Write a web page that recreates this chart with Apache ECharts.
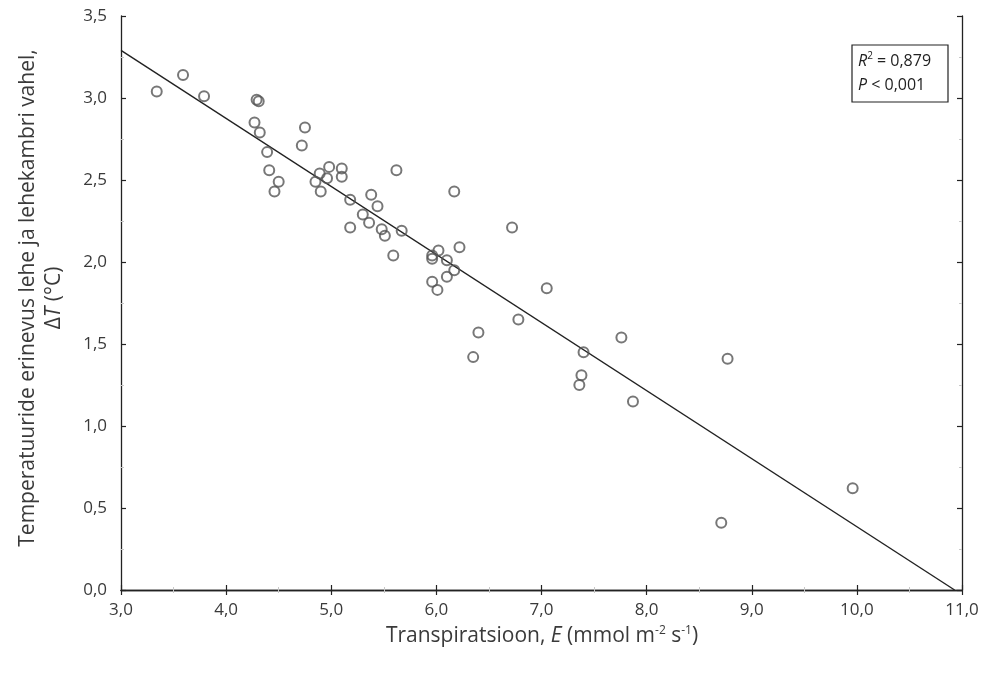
<!DOCTYPE html>
<html>
<head>
<meta charset="utf-8">
<script src="https://cdn.jsdelivr.net/npm/echarts@6/dist/echarts.min.js"></script>
<style>
html, body { margin: 0; padding: 0; background: #fff; }
#chart { width: 993px; height: 679px; }
</style>
</head>
<body>
<div id="chart"></div>
<script>
// transpiration E (mmol m-2 s-1)
var transpX = [3.34, 3.59, 3.79, 4.29, 4.31, 4.27, 4.32, 4.75, 4.72, 4.39,
	4.41, 4.50, 4.46, 4.98, 5.10, 5.10, 4.89, 4.96, 4.85, 4.90,
	5.18, 5.38, 5.44, 5.30, 5.18, 5.36, 5.48, 5.51, 5.67, 5.62,
	6.17, 5.59, 5.96, 5.96, 6.02, 6.10, 6.22, 6.17, 6.10, 5.96,
	6.01, 6.72, 7.05, 6.78, 6.40, 6.35, 7.40, 7.38, 7.36, 7.76,
	7.87, 8.77, 8.71, 9.96];
// leaf - chamber temperature difference dT (°C)
var deltaT = [3.04, 3.14, 3.01, 2.99, 2.98, 2.85, 2.79, 2.82, 2.71, 2.67,
	2.56, 2.49, 2.43, 2.58, 2.57, 2.52, 2.54, 2.51, 2.49, 2.43,
	2.38, 2.41, 2.34, 2.29, 2.21, 2.24, 2.20, 2.16, 2.19, 2.56,
	2.43, 2.04, 2.04, 2.02, 2.07, 2.01, 2.09, 1.95, 1.91, 1.88,
	1.83, 2.21, 1.84, 1.65, 1.57, 1.42, 1.45, 1.31, 1.25, 1.54,
	1.15, 1.41, 0.41, 0.62];
// regression line ends
var fitX = [3.0, 10.93];
var fitY = [3.29, 0.0];

var fmt = function (v) { return v.toFixed(1).replace('.', ','); };
var font = '"Open Sans", sans-serif';
var txt = '#3a3a3a';

var chart = echarts.init(document.getElementById('chart'));

var axisCommon = {
	axisLine: { lineStyle: { color: '#222', width: 1.3 } },
	axisTick: { inside: true, length: 5, lineStyle: { color: '#222', width: 1.2 } },
	minorTick: { show: true, splitNumber: 2, length: 3, lineStyle: { color: '#c8c8c8' } },
	splitLine: { show: false }
};

chart.setOption({
	animation: false,
	grid: { left: 121, right: 31, top: 16, bottom: 89 },
	xAxis: [
		Object.assign({
			type: 'value', min: 3, max: 11, interval: 1,
			axisLabel: { formatter: fmt, color: txt, fontSize: 17, fontFamily: font, margin: 12 }
		}, axisCommon),
		Object.assign({
			type: 'value', position: 'top', min: 3, max: 11, interval: 1,
			axisLabel: { show: false }
		}, axisCommon)
	],
	yAxis: [
		Object.assign({
			type: 'value', min: 0, max: 3.5, interval: 0.5,
			axisLabel: { formatter: fmt, color: txt, fontSize: 17, fontFamily: font, margin: 14 }
		}, axisCommon),
		Object.assign({
			type: 'value', position: 'right', min: 0, max: 3.5, interval: 0.5,
			axisLabel: { show: false }
		}, axisCommon)
	],
	series: [
		{
			type: 'line',
			data: fitX.map(function (x, i) { return [x, fitY[i]]; }),
			symbol: 'none',
			lineStyle: { color: '#222', width: 1.4 },
			z: 2
		},
		{
			type: 'scatter',
			data: transpX.map(function (x, i) { return [x, deltaT[i]]; }),
			symbol: 'circle',
			symbolSize: 10,
			itemStyle: { color: 'rgba(255,255,255,0)', borderColor: '#555', borderWidth: 2 },
			z: 3
		}
	],
	graphic: [
		{
			type: 'text', x: 28, y: 298, rotation: Math.PI / 2,
			style: {
				text: 'Temperatuuride erinevus lehe ja lehekambri vahel,',
				fill: txt, font: '21px ' + font, align: 'center', verticalAlign: 'middle'
			}
		},
		{
			type: 'text', x: 54, y: 298, rotation: Math.PI / 2,
			style: {
				text: 'Δ{i|T} (°C)',
				rich: { i: { fontStyle: 'italic', fontSize: 21, fontFamily: font, fill: txt } },
				fill: txt, font: '21px ' + font, align: 'center', verticalAlign: 'middle'
			}
		},
		{
			type: 'text', x: 542, y: 636,
			style: {
				text: 'Transpiratsioon, {i|E} (mmol m{s|-2} s{s|-1})',
				rich: {
					i: { fontStyle: 'italic', fontSize: 21, fontFamily: font, fill: txt },
					s: { fontSize: 12, fontFamily: font, fill: txt, padding: [0, 0, 10, 0] }
				},
				fill: txt, font: '21px ' + font, align: 'center', verticalAlign: 'middle'
			}
		},
		{
			type: 'rect', shape: { x: 852, y: 45, width: 96, height: 57 },
			style: { fill: '#fff', stroke: '#222', lineWidth: 1.2 }, z: 10
		},
		{
			type: 'text', x: 858, y: 61, z: 11,
			style: {
				text: '{i|R}{s|2} = 0,879',
				rich: {
					i: { fontStyle: 'italic', fontSize: 16, fontFamily: font, fill: '#222' },
					s: { fontSize: 10, fontFamily: font, fill: '#222', padding: [0, 0, 9, 0] }
				},
				fill: '#222', font: '16px ' + font, verticalAlign: 'middle'
			}
		},
		{
			type: 'text', x: 858, y: 85, z: 11,
			style: {
				text: '{i|P} < 0,001',
				rich: { i: { fontStyle: 'italic', fontSize: 16, fontFamily: font, fill: '#222' } },
				fill: '#222', font: '16px ' + font, verticalAlign: 'middle'
			}
		}
	]
});
</script>
</body>
</html>
